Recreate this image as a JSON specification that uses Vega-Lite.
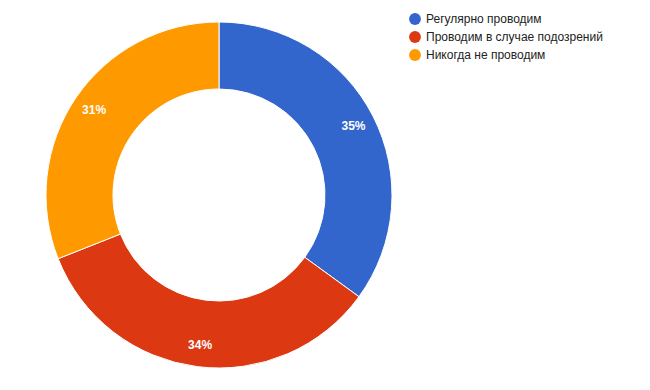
{
  "$schema": "https://vega.github.io/schema/vega-lite/v6.json",
  "width": 428,
  "height": 380,
  "padding": 5,
  "background": "white",
  "config": {"view": {"stroke": null}, "font": "Liberation Sans"},
  "data": {"values": [
    {"category": "Регулярно проводим", "value": 35, "label": "35%", "order": 1},
    {"category": "Проводим в случае подозрений", "value": 34, "label": "34%", "order": 2},
    {"category": "Никогда не проводим", "value": 31, "label": "31%", "order": 3}
  ]},
  "encoding": {
    "theta": {"field": "value", "type": "quantitative", "stack": true},
    "order": {"field": "order", "type": "quantitative"},
    "color": {
      "field": "category", "type": "nominal",
      "scale": {"domain": ["Регулярно проводим", "Проводим в случае подозрений", "Никогда не проводим"], "range": ["#3366CC", "#DC3912", "#FF9900"]},
      "legend": {
        "title": null, "orient": "none", "legendX": 404, "legendY": 8,
        "symbolType": "circle", "symbolSize": 140, "symbolStrokeWidth": 0,
        "labelFontSize": 12, "labelColor": "#222222", "labelFont": "Liberation Sans",
        "labelLimit": 0, "rowPadding": 6, "labelOffset": 5
      }
    }
  },
  "layer": [
    {"mark": {"type": "arc", "outerRadius": 173, "innerRadius": 106, "stroke": "white", "strokeWidth": 1}},
    {"mark": {"type": "text", "radius": 151, "color": "white", "fontSize": 12, "fontWeight": "bold", "font": "Liberation Sans"},
     "encoding": {"text": {"field": "label"}, "color": {"value": "white"}}}
  ]
}
